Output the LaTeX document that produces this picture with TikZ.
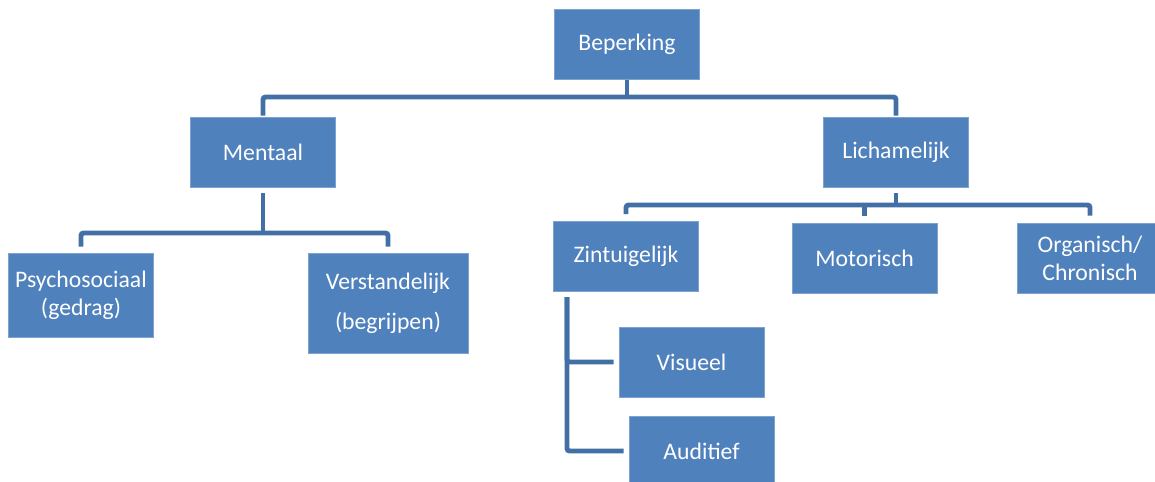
\documentclass[tikz,border=0pt]{standalone}
\usepackage{fontspec}
\setmainfont{Carlito}
\usetikzlibrary{positioning, calc}
\definecolor{boxblue}{RGB}{79,129,189}
\definecolor{boxedge}{RGB}{125,162,208}
\definecolor{linkblue}{RGB}{66,112,166}

\begin{document}
\begin{tikzpicture}[
    x=0.02cm, y=-0.02cm,
    box/.style={rectangle, fill=boxblue, draw=boxedge, line width=0.4pt, text=white,
        minimum width=2.9cm, minimum height=1.4cm, align=center, inner sep=2pt,
        font=\fontsize{13.5}{16}\selectfont},
    link/.style={draw=linkblue, line width=2.8pt, rounded corners=1.5pt}
]
\useasboundingbox (0,0) rectangle (1155,481);

% Blokken
\node[box] (beperking) at (627,44.5) {Beperking};
\node[box] (mentaal) at (263,152) {Mentaal};
\node[box] (lichamelijk) at (896,152) {Lichamelijk};
\node[box, minimum height=1.68cm] (psycho) at (81,295) {Psychosociaal\\(gedrag)};
\node[box, minimum width=3.2cm, minimum height=2cm] (verstand) at (388,303) {Verstandelijk\\[7pt](begrijpen)};
\node[box] (zintuig) at (626,256.5) {Zintuigelijk};
\node[box] (motorisch) at (864.5,258) {Motorisch};
\node[box] (organisch) at (1090,258) {Organisch/\\Chronisch};
\node[box] (visueel) at (691.5,362) {Visueel};
\node[box] (auditief) at (701.5,451) {Auditief};

% Verbindingen
\coordinate (b1) at (627,97);
\draw[link] (beperking) -- (b1);
\draw[link, shorten <=0.02cm, shorten >=0.02cm] (mentaal.north) |- (b1) -| (lichamelijk.north);

\coordinate (b2) at (263,233);
\draw[link, shorten <=0.12cm] (mentaal) -- (b2);
\draw[link, shorten <=0.12cm, shorten >=0.12cm] (psycho.north) |- (b2) -| (verstand.north);

\coordinate (b3) at (896,205);
\draw[link, shorten <=0.12cm] (lichamelijk) -- (b3);
\draw[link, shorten <=0.14cm, shorten >=0.14cm] (zintuig.north) |- (b3) -| (organisch.north);
\draw[link, shorten >=0.14cm] (b3 -| motorisch.north) -- (motorisch.north);

\coordinate (b4) at (567,297);
\draw[link, shorten >=0.1cm] (b4) |- (visueel.west);
\draw[link, shorten >=0.1cm] (b4) |- (auditief.west);

\end{tikzpicture}
\end{document}
